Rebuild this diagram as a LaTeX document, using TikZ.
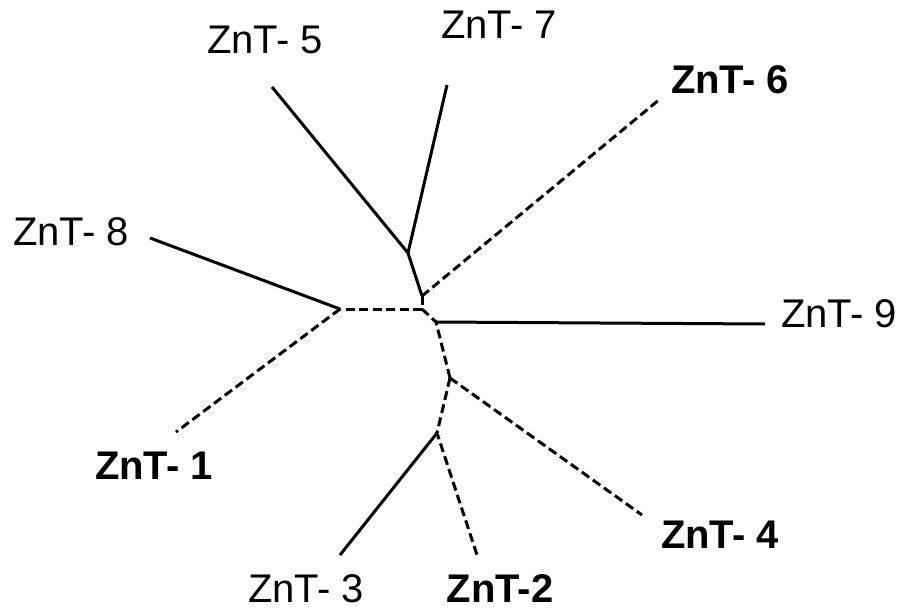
\documentclass[tikz,border=0pt]{standalone}
\usepackage{fontspec}
\setmainfont{Liberation Sans}
\begin{document}
\begin{tikzpicture}[x=1pt,y=-1pt,
  branch/.style={line width=3pt},
  dashbranch/.style={line width=3pt,dash pattern=on 9pt off 4.5pt},
  leaf/.style={font=\fontsize{40}{44}\selectfont,inner sep=0pt},
  boldleaf/.style={font=\fontsize{40}{44}\selectfont\bfseries,inner sep=0pt}]
\useasboundingbox (0,0) rectangle (906,613);

% internal nodes
\coordinate (a) at (408,253);
\coordinate (b) at (422,296);
\coordinate (c) at (422,309);
\coordinate (d) at (340,309);
\coordinate (g) at (436,322);
\coordinate (e) at (450,378);
\coordinate (f) at (437,433);

% branch tips
\coordinate (t5) at (272,87);
\coordinate (t7) at (447,85);
\coordinate (t6) at (660,99);
\coordinate (t8) at (150,238);
\coordinate (t1) at (176,432);
\coordinate (t9) at (765,324);
\coordinate (t4) at (642,515);
\coordinate (t3) at (340,555);
\coordinate (t2) at (477,555);

% labels
\node[leaf] (l5) at (265,40) {ZnT- 5};
\node[leaf] (l7) at (499,25) {ZnT- 7};
\node[boldleaf] (l6) at (730,80) {ZnT- 6};
\node[leaf] (l8) at (71,232) {ZnT- 8};
\node[leaf] (l9) at (839,314) {ZnT- 9};
\node[boldleaf] (l1) at (154,466) {ZnT- 1};
\node[boldleaf] (l4) at (720,535) {ZnT- 4};
\node[boldleaf] (l2) at (500,589) {ZnT-2};
\node[leaf] (l3) at (306,589) {ZnT- 3};

% solid branches
\draw[branch] (t5) -- (a) -- (t7);
\draw[branch] (a) -- (b);
\draw[branch] (t8) -- (d);
\draw[branch] (g) -- (t9);
\draw[branch] (f) -- (t3);

% dashed branches
\draw[dashbranch] (b) -- (t6);
\draw[dashbranch] (b) -- (c);
\draw[dashbranch] (c) -- (d);
\draw[dashbranch] (d) -- (t1);
\draw[dashbranch] (c) -- (g) -- (e);
\draw[dashbranch] (e) -- (t4);
\draw[dashbranch] (e) -- (f) -- (t2);
\end{tikzpicture}
\end{document}
